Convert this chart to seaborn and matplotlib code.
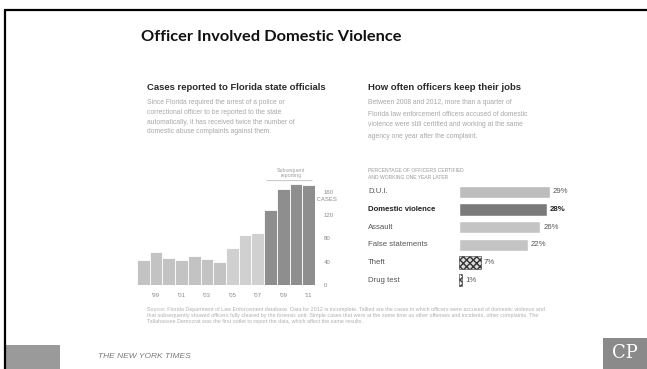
import matplotlib
matplotlib.use("Agg")
import matplotlib.pyplot as plt
import matplotlib.transforms as mtransforms
from matplotlib.patches import Rectangle
import seaborn as sns

# left chart: cases reported per year
years = [str(y) for y in range(1998, 2012)]
cases = [43, 57, 46, 43, 50, 45, 39, 63, 86, 90, 129, 164, 173, 171]
case_ticks = [0, 40, 80, 120, 160]
year_ticks = ["1999", "2001", "2003", "2005", "2007", "2009", "2011"]
year_labels = ["'99", "'01", "'03", "'05", "'07", "'09", "'11"]

# right chart: percent of officers still certified and working a year later
offenses = ["D.U.I.", "Domestic violence", "Assault", "False statements", "Theft", "Drug test"]
pct_kept = [29, 28, 26, 22, 7, 1]

W, H = 647, 369


def fx(x):
    return x / W


def fy(y):
    return 1 - y / H


def box(x0, y0, x1, y1):
    return [x0 / W, 1 - y1 / H, (x1 - x0) / W, (y1 - y0) / H]


sns.set_theme(style="white")
plt.rcParams["font.family"] = ["Liberation Sans", "DejaVu Sans"]

fig = plt.figure(figsize=(6.47, 3.69), dpi=100)
fig.patch.set_facecolor("white")

# slide frame
fig.add_artist(plt.Line2D([fx(5), 1], [fy(10), fy(10)], color="black", lw=1.6))
fig.add_artist(plt.Line2D([fx(5), fx(5)], [fy(10), 0], color="black", lw=1.6))

fig.text(fx(271), fy(37), "Officer Involved Domestic Violence", ha="center", va="center",
         fontsize=11.8, fontweight="bold", family=["Lato", "DejaVu Sans"], color="#111111")

# headings and intro text
fig.text(fx(147), fy(88), "Cases reported to Florida state officials", fontsize=6.8,
         fontweight="bold", color="#2a2a2a", va="center")
fig.text(fx(368), fy(88), "How often officers keep their jobs", fontsize=6.8,
         fontweight="bold", color="#2a2a2a", va="center")

left_par = ["Since Florida required the arrest of a police or",
            "correctional officer to be reported to the state",
            "automatically, it has received twice the number of",
            "domestic abuse complaints against them."]
right_par = ["Between 2008 and 2012, more than a quarter of",
             "Florida law enforcement officers accused of domestic",
             "violence were still certified and working at the same",
             "agency one year after the complaint."]
for i, line in enumerate(left_par):
    fig.text(fx(147), fy(102 + 10 * i), line, fontsize=4.9, color="#a8a8a8", va="center")
for i, line in enumerate(right_par):
    fig.text(fx(368), fy(103 + 11 * i), line, fontsize=4.9, color="#a8a8a8", va="center")

fig.text(fx(368), fy(174), "PERCENTAGE OF OFFICERS CERTIFIED\nAND WORKING ONE YEAR LATER",
         fontsize=3.6, color="#999999", va="center", linespacing=1.3)

# ---- left bar chart
ax1 = fig.add_axes(box(137, 183, 315, 285))
shade = {y: "#c3c3c3" for y in years}
for y in years[7:10]:
    shade[y] = "#d0d0d0"
for y in years[10:]:
    shade[y] = "#8e8e8e"
sns.barplot(x=years, y=cases, hue=years, palette=shade, width=1.0, edgecolor="white",
            linewidth=0.6, legend=False, ax=ax1)
ax1.set_ylim(0, 175)
ax1.set_xlim(-0.5, len(years) - 0.5)
for s in ax1.spines.values():
    s.set_visible(False)
ax1.yaxis.tick_right()
ax1.set_yticks(case_ticks)
ax1.set_yticklabels([str(t) for t in case_ticks], fontsize=4.3, color="#8a8a8a")
ax1.set_xticks([years.index(y) for y in year_ticks])
ax1.set_xticklabels(year_labels, fontsize=4.3, color="#8a8a8a")
ax1.tick_params(length=0, pad=6)
ax1.set_xlabel("")
ax1.set_ylabel("")
blend1 = mtransforms.blended_transform_factory(ax1.transAxes, ax1.transData)
ax1.text(1.0, 146, " CASES", transform=blend1, fontsize=4.3, color="#8a8a8a",
         va="center", ha="left")
ax1.annotate("", xy=(9.5, 179), xytext=(13.5, 179), annotation_clip=False,
             arrowprops=dict(arrowstyle="-", color="#bbbbbb", lw=0.6))
ax1.text(11.6, 192, "Subsequent\nreporting", fontsize=3.8, color="#a0a0a0", ha="center",
         va="center", linespacing=1.2, clip_on=False)

# ---- right bar chart
ax2 = fig.add_axes(box(459, 183, 553, 289))
tone = {"D.U.I.": "#bdbdbd", "Domestic violence": "#7a7a7a", "Assault": "#c4c4c4",
        "False statements": "#c4c4c4", "Theft": "#dddddd", "Drug test": "#ffffff"}
sns.barplot(x=pct_kept, y=offenses, hue=offenses, palette=tone, orient="h", width=0.68,
            legend=False, ax=ax2)
for p in ax2.patches[4:]:
    p.set_edgecolor("#333333")
    p.set_hatch("xxxxx")
    p.set_linewidth(0.4)
ax2.set_xlim(0, 30)
for s in ax2.spines.values():
    s.set_visible(False)
ax2.set_xticks([])
ax2.set_yticks([])
ax2.set_xlabel("")
ax2.set_ylabel("")
lab_tr = mtransforms.blended_transform_factory(fig.transFigure, ax2.transData)
for i, (name, v) in enumerate(zip(offenses, pct_kept)):
    bold = name == "Domestic violence"
    ax2.text(fx(368), i, name, transform=lab_tr, fontsize=5.6, va="center",
             color="#222222" if bold else "#555555", fontweight="bold" if bold else "normal")
    ax2.text(v + 0.9, i, f"{v}%", fontsize=5.6, va="center", clip_on=False,
             color="#222222" if bold else "#555555", fontweight="bold" if bold else "normal")

# source note
source = ["Source: Florida Department of Law Enforcement database. Data for 2012 is incomplete. Tallied are the cases in which officers were accused of domestic violence and",
          "that subsequently showed officers fully cleared by the forensic unit. Simple cases that were at the same time as other offenses and incidents, other complaints. The",
          "Tallahassee Democrat was the first outlet to report the data, which affect the same results."]
for i, line in enumerate(source):
    fig.text(fx(147), fy(309 + 6.5 * i), line, fontsize=3.9, color="#b0b0b0", va="center")

# footer
fig.add_artist(Rectangle((fx(5), 0), fx(60) - fx(5), fy(345), transform=fig.transFigure,
                         facecolor="#9a9a9a", edgecolor="none"))
fig.text(fx(98), fy(357), "THE NEW YORK TIMES", fontsize=6, style="italic", color="#7a7a7a",
         va="center")
fig.add_artist(Rectangle((fx(603), 0), 1 - fx(603), fy(338), transform=fig.transFigure,
                         facecolor="#8a8a8a", edgecolor="none"))
fig.text(fx(625), fy(353), "CP", fontsize=13, color="white", family="DejaVu Serif",
         ha="center", va="center")

fig.savefig("out.png", dpi=100)
